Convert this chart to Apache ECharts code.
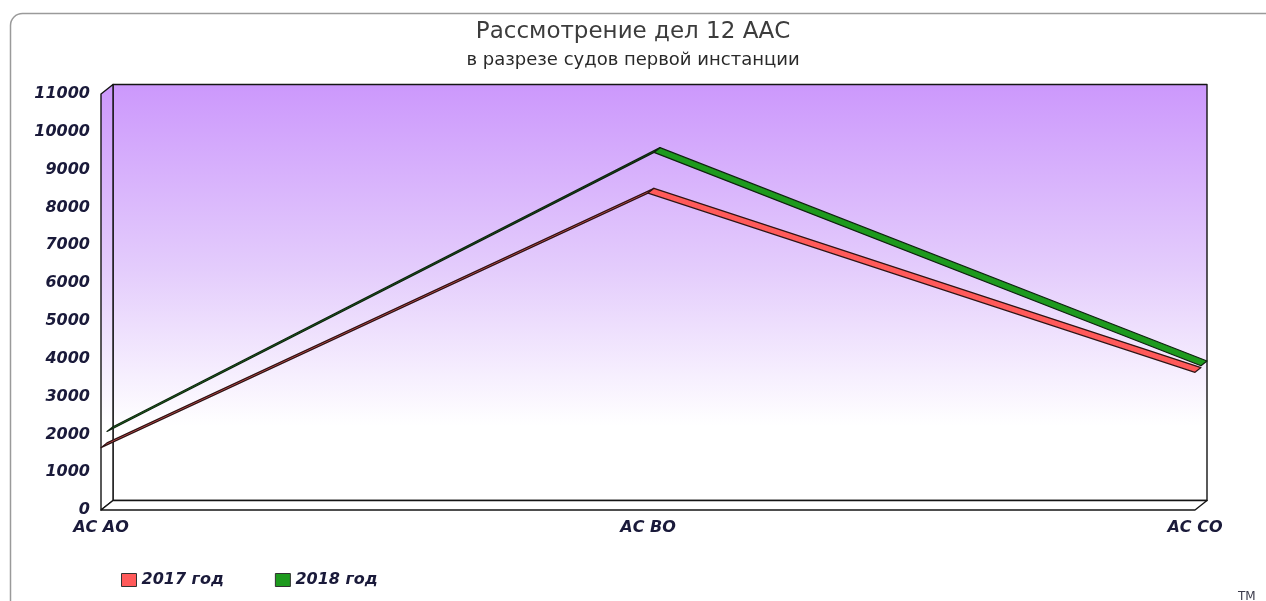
<!DOCTYPE html>
<html><head><meta charset="utf-8">
<script src="https://cdn.jsdelivr.net/npm/echarts@6/dist/echarts.min.js"></script>
<style>html,body{margin:0;padding:0;background:#fff}#c{width:1266px;height:601px}</style>
</head><body><div id="c"></div>
<script>
const categories = ['АС АО', 'АС ВО', 'АС СО'];
const values2017 = [1650, 8380, 3640];
const values2018 = [1950, 9330, 3690];
const seriesNames = ['2017 год', '2018 год'];
const yMin = 0, yMax = 11000, yInterval = 1000;

const DEPTH = [12, -9.5];
const FONT = 'DejaVu Sans';
const colors = ['#ff5a5a', '#1e9a1e'];
const strokes = ['#2e1414', '#0f220f'];

function segData(vals) {
  const out = [];
  for (let i = 0; i < vals.length - 1; i++) out.push([i, vals[i], vals[i + 1]]);
  return out;
}
function ribbon(f0, f1, fill, stroke) {
  return function (params, api) {
    const i = api.value(0);
    const p0 = api.coord([i, api.value(1)]);
    const p1 = api.coord([i + 1, api.value(2)]);
    const a = [DEPTH[0] * f0, DEPTH[1] * f0], b = [DEPTH[0] * f1, DEPTH[1] * f1];
    return {
      type: 'polygon',
      shape: { points: [
        [p0[0] + a[0], p0[1] + a[1]], [p1[0] + a[0], p1[1] + a[1]],
        [p1[0] + b[0], p1[1] + b[1]], [p0[0] + b[0], p0[1] + b[1]]
      ] },
      style: { fill: fill, stroke: stroke, lineWidth: 1.2, lineJoin: 'round' }
    };
  };
}
function wallsRender(params, api) {
  const last = categories.length - 1;
  const fl = api.coord([0, yMin]), fr = api.coord([last, yMin]);
  const tl = api.coord([0, yMax]), tr = api.coord([last, yMax]);
  const bk = p => [p[0] + DEPTH[0], p[1] + DEPTH[1]];
  const grad = new echarts.graphic.LinearGradient(0, bk(tl)[1], 0, bk(fl)[1], [
    { offset: 0, color: '#cc98fc' },
    { offset: 0.45, color: '#e4cdfc' },
    { offset: 0.82, color: '#ffffff' },
    { offset: 1, color: '#ffffff' }
  ], true);
  const st = { stroke: '#151515', lineWidth: 1.4, lineJoin: 'round' };
  return {
    type: 'group',
    children: [
      { type: 'polygon', shape: { points: [bk(tl), bk(tr), bk(fr), bk(fl)] }, style: Object.assign({ fill: grad }, st) },
      { type: 'polygon', shape: { points: [fl, tl, bk(tl), bk(fl)] }, style: Object.assign({ fill: grad }, st) },
      { type: 'polygon', shape: { points: [fl, fr, bk(fr), bk(fl)] }, style: Object.assign({ fill: '#ffffff' }, st) }
    ]
  };
}

const chart = echarts.init(document.getElementById('c'), null, { renderer: 'canvas' });
chart.setOption({
  animation: false,
  backgroundColor: '#ffffff',
  title: {
    text: 'Рассмотрение дел 12 ААС',
    subtext: 'в разрезе судов первой инстанции',
    left: 'center',
    top: 16,
    itemGap: 7,
    textStyle: { fontFamily: FONT, fontSize: 23, fontWeight: 'normal', color: '#3c3c3c' },
    subtextStyle: { fontFamily: FONT, fontSize: 18, color: '#2a2a2a' }
  },
  legend: {
    left: 116, top: 567,
    itemWidth: 15, itemHeight: 13, itemGap: 51,
    icon: 'rect',
    textStyle: { fontFamily: FONT, fontSize: 16, fontStyle: 'italic', fontWeight: 'bold', color: '#1a1a3a' },
    data: [
      { name: seriesNames[0], itemStyle: { color: colors[0], borderColor: '#333', borderWidth: 1 } },
      { name: seriesNames[1], itemStyle: { color: colors[1], borderColor: '#333', borderWidth: 1 } }
    ]
  },
  grid: { left: 101, right: 71, top: 94, bottom: 91 },
  xAxis: {
    type: 'category', data: categories, boundaryGap: false,
    axisLine: { show: false }, axisTick: { show: false },
    axisLabel: { margin: 10, fontFamily: FONT, fontSize: 16, fontStyle: 'italic', fontWeight: 600, color: '#1a1a3a' },
    splitLine: { show: false }
  },
  yAxis: {
    type: 'value', min: yMin, max: yMax, interval: yInterval,
    axisLine: { show: false }, axisTick: { show: false }, splitLine: { show: false },
    axisLabel: { margin: 11, fontFamily: FONT, fontSize: 16, fontStyle: 'italic', fontWeight: 'bold', color: '#1a1a3a',
      formatter: v => String(v) }
  },
  series: [
    { type: 'custom', name: '__walls', silent: true, z: 1, renderItem: wallsRender, data: [[0, 0]], encode: { x: 0, y: 1 } },
    { type: 'custom', name: seriesNames[1], z: 2, renderItem: ribbon(0.5, 1, colors[1], strokes[1]),
      itemStyle: { color: colors[1] }, data: segData(values2018), encode: { x: 0, y: [1, 2] } },
    { type: 'custom', name: seriesNames[0], z: 3, renderItem: ribbon(0, 0.5, colors[0], strokes[0]),
      itemStyle: { color: colors[0] }, data: segData(values2017), encode: { x: 0, y: [1, 2] } }
  ],
  graphic: [
    { type: 'rect', left: 8, top: 11, shape: { width: 1270, height: 600, r: 12 }, style: { fill: 'none', stroke: '#9a9a9a', lineWidth: 1.5 }, z: 0 },
    { type: 'text', left: 1238, top: 591, style: { text: 'TM', fontFamily: FONT, fontSize: 12, fill: '#3a3a4a' } }
  ]
});
</script>
</body></html>
